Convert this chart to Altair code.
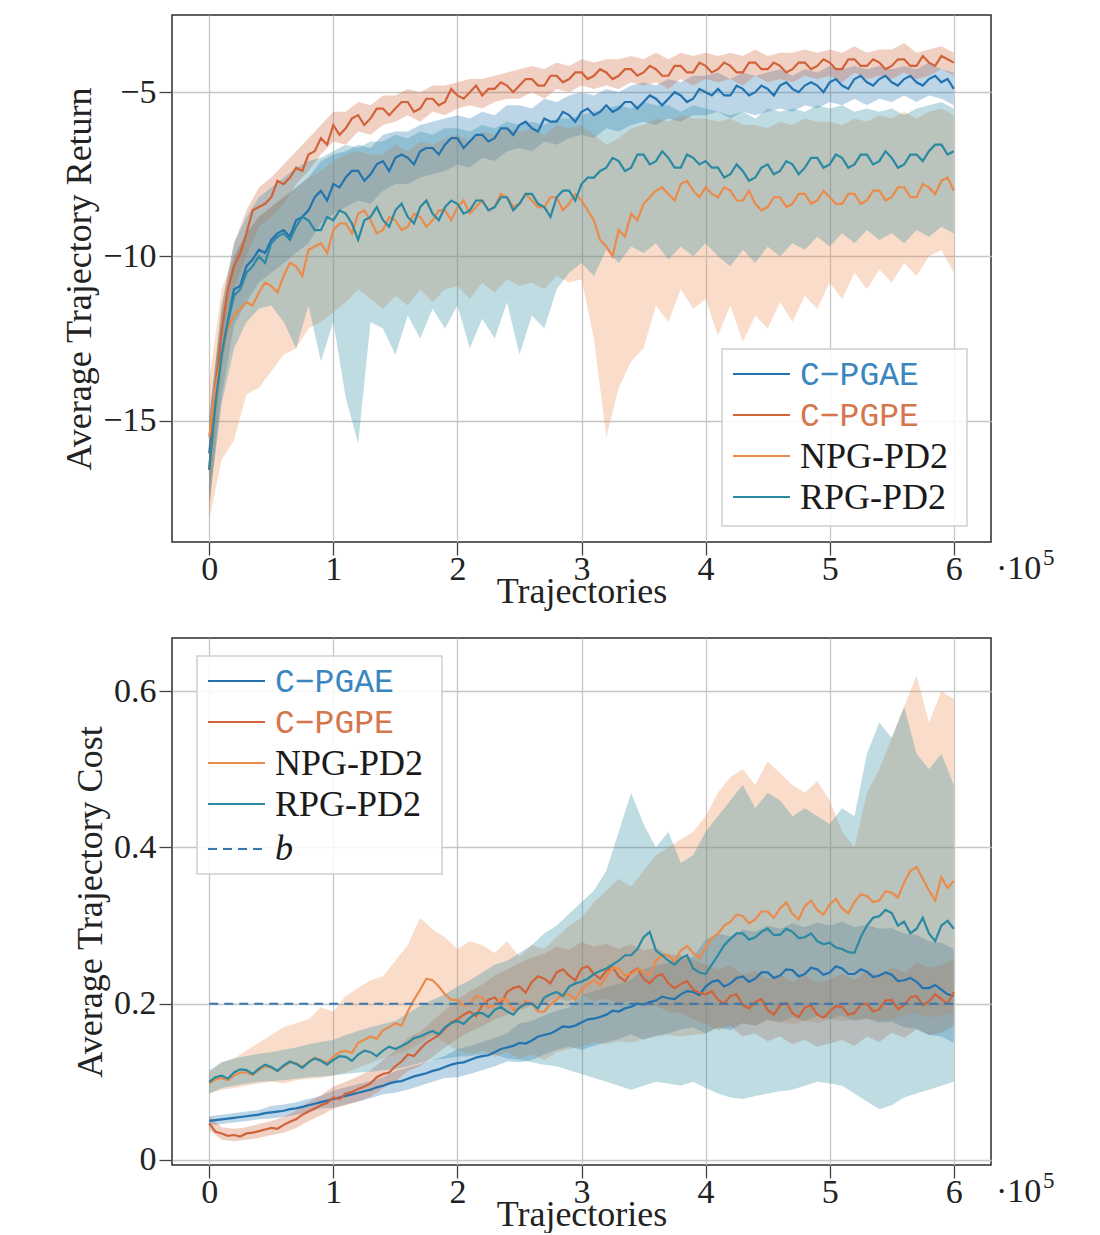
import altair as alt
import pandas as pd

# ---------------- data ----------------
STEPS = list(range(0, 600001, 10000))          # band sample positions (61)
FINE = list(range(0, 600001, 5000))            # mean-curve sample positions (121)
SERIES = ["C-PGAE", "C-PGPE", "NPG-PD2", "RPG-PD2"]
LABELS = ["C\u2212PGAE", "C\u2212PGPE", "NPG-PD2", "RPG-PD2"]
COLORS = ["#2273b0", "#d0633a", "#ea8b4b", "#2a8aa2"]
LABEL_COLORS = ["#3a86bf", "#d6764c", "#1a1a1a", "#1a1a1a"]
X_TICKS = [0, 100000, 200000, 300000, 400000, 500000, 600000]
RET_TICKS = [-15, -10, -5]
COST_TICKS = [0, 0.2, 0.4, 0.6]
B_THRESHOLD = 0.2

# ---- Average trajectory return: means (121 points) ----
ret_cpgae = [-16.0, -14.3, -13.0, -12.0, -11.0, -10.9, -10.3, -10.1, -9.8, -9.9,
             -9.5, -9.3, -9.2, -9.4, -8.9, -8.8, -8.6, -8.2, -8.0, -8.3,
             -7.8, -7.9, -7.6, -7.4, -7.4, -7.7, -7.5, -7.2, -7.1, -7.4,
             -7.0, -6.9, -7.0, -7.2, -6.8, -6.7, -6.7, -6.9, -6.6, -6.4,
             -6.4, -6.7, -6.5, -6.3, -6.3, -6.5, -6.4, -6.1, -6.1, -6.3,
             -6.0, -5.9, -6.1, -6.2, -5.8, -5.9, -5.9, -5.6, -5.7, -5.9,
             -5.6, -5.5, -5.7, -5.6, -5.4, -5.6, -5.5, -5.3, -5.3, -5.5,
             -5.3, -5.1, -5.2, -5.4, -5.2, -5.0, -5.1, -5.3, -5.2, -4.9,
             -5.0, -5.1, -4.9, -5.1, -5.1, -4.8, -4.9, -5.1, -5.0, -4.8,
             -4.9, -5.1, -4.8, -4.7, -4.9, -5.0, -4.8, -4.7, -4.8, -5.0,
             -4.7, -4.6, -4.8, -4.9, -4.6, -4.5, -4.7, -4.8, -4.6, -4.5,
             -4.7, -4.8, -4.6, -4.5, -4.7, -4.8, -4.6, -4.5, -4.7, -4.6,
             -4.9]
ret_cpgpe = [-16.5, -14.0, -12.3, -11.0, -10.3, -9.9, -9.3, -8.6, -8.5, -8.4,
             -8.2, -7.7, -7.8, -7.6, -7.3, -7.4, -6.9, -6.8, -6.4, -6.6,
             -6.0, -6.3, -6.1, -5.8, -5.7, -6.0, -5.8, -5.5, -5.5, -5.7,
             -5.5, -5.3, -5.3, -5.6, -5.5, -5.2, -5.2, -5.4, -5.3, -4.9,
             -5.1, -5.2, -5.0, -4.8, -5.1, -4.9, -4.9, -4.7, -4.8, -5.0,
             -4.8, -4.6, -4.6, -4.8, -4.8, -4.5, -4.5, -4.7, -4.6, -4.4,
             -4.4, -4.6, -4.5, -4.3, -4.4, -4.6, -4.5, -4.3, -4.3, -4.5,
             -4.4, -4.2, -4.3, -4.5, -4.5, -4.2, -4.2, -4.4, -4.4, -4.1,
             -4.2, -4.4, -4.3, -4.1, -4.2, -4.4, -4.4, -4.1, -4.1, -4.3,
             -4.3, -4.1, -4.2, -4.4, -4.3, -4.1, -4.1, -4.3, -4.2, -4.0,
             -4.1, -4.3, -4.3, -4.0, -4.0, -4.2, -4.2, -4.0, -4.1, -4.3,
             -4.2, -4.0, -4.0, -4.2, -4.2, -3.9, -4.1, -4.2, -3.9, -4.0,
             -4.1]
ret_npg = [-15.5, -14.0, -13.0, -12.2, -11.8, -11.6, -11.4, -11.5, -11.1, -10.8,
           -10.9, -11.1, -10.6, -10.2, -10.3, -10.6, -9.8, -9.7, -9.6, -9.9,
           -9.2, -9.0, -9.0, -9.3, -8.7, -8.6, -8.9, -9.3, -9.2, -8.8,
           -8.9, -9.2, -9.1, -8.7, -8.8, -9.1, -8.9, -8.6, -8.6, -8.9,
           -8.5, -8.3, -8.7, -8.5, -8.3, -8.6, -8.5, -8.1, -8.2, -8.5,
           -8.4, -8.1, -8.3, -8.5, -8.5, -8.2, -8.2, -8.6, -8.4, -8.1,
           -8.3, -8.6, -8.9, -9.5, -9.7, -10.0, -9.2, -9.4, -8.7, -8.9,
           -8.4, -8.2, -8.0, -7.9, -8.1, -8.3, -7.8, -7.7, -8.0, -8.2,
           -7.9, -8.1, -8.2, -7.9, -8.0, -8.3, -8.3, -8.0, -8.4, -8.6,
           -8.5, -8.2, -8.2, -8.5, -8.4, -8.1, -8.1, -8.4, -8.3, -8.0,
           -8.2, -8.4, -8.4, -8.1, -8.1, -8.4, -8.3, -8.0, -8.0, -8.3,
           -8.2, -7.9, -7.9, -8.2, -8.2, -7.8, -7.9, -8.1, -7.7, -7.6,
           -8.0]
ret_rpg = [-16.5, -14.5, -13.0, -12.0, -11.2, -11.0, -10.5, -10.3, -10.0, -10.2,
           -9.6, -9.4, -9.3, -9.5, -9.1, -8.8, -8.9, -9.2, -9.2, -8.8,
           -8.9, -8.6, -8.7, -9.0, -9.5, -8.9, -8.8, -8.5, -8.9, -9.1,
           -8.6, -8.4, -8.8, -9.0, -8.5, -8.3, -8.7, -8.9, -8.5, -8.3,
           -8.4, -8.7, -8.6, -8.3, -8.3, -8.6, -8.5, -8.2, -8.2, -8.6,
           -8.4, -8.1, -8.1, -8.4, -8.5, -8.8, -8.2, -8.0, -8.0, -8.3,
           -7.8, -7.6, -7.6, -7.4, -7.3, -7.0, -7.1, -7.4, -7.3, -6.9,
           -6.9, -7.2, -7.1, -6.8, -7.0, -7.3, -7.3, -6.9, -7.0, -7.2,
           -7.1, -7.3, -7.3, -7.6, -7.5, -7.2, -7.4, -7.7, -7.6, -7.3,
           -7.2, -7.5, -7.4, -7.1, -7.2, -7.5, -7.3, -7.0, -7.0, -7.3,
           -7.2, -6.9, -7.0, -7.3, -7.2, -6.9, -6.9, -7.2, -7.1, -6.8,
           -7.0, -7.3, -7.2, -6.9, -6.9, -7.1, -6.8, -6.6, -6.6, -6.9,
           -6.8]

# ---- Average trajectory return: bands (61 points) ----
ret_cpgae_hi = [-14.8, -11.8, -10.0, -9.3, -8.8, -8.5, -8.2, -7.9, -7.6, -7.1,
                -6.9, -6.8, -6.6, -6.7, -6.3, -6.2, -6.2, -6.0, -5.9, -5.8,
                -5.7, -5.8, -5.6, -5.7, -5.4, -5.4, -5.5, -5.2, -5.3, -5.1,
                -5.0, -5.1, -4.9, -5.0, -4.8, -4.7, -4.8, -4.6, -4.7, -4.5,
                -4.5, -4.4, -4.6, -4.4, -4.5, -4.4, -4.3, -4.5, -4.3, -4.4,
                -4.2, -4.3, -4.2, -4.3, -4.2, -4.3, -4.2, -4.3, -4.1, -4.3,
                -4.4]
ret_cpgae_lo = [-17.5, -14.3, -12.1, -11.4, -10.8, -10.5, -10.2, -9.9, -9.6, -9.0,
                -8.7, -8.5, -8.3, -8.4, -8.0, -7.8, -7.8, -7.6, -7.5, -7.4,
                -7.2, -7.3, -7.0, -7.1, -6.8, -6.7, -6.8, -6.5, -6.6, -6.4,
                -6.3, -6.4, -6.1, -6.2, -6.0, -5.9, -6.0, -5.8, -5.9, -5.7,
                -5.7, -5.6, -5.8, -5.6, -5.7, -5.6, -5.5, -5.6, -5.4, -5.5,
                -5.3, -5.4, -5.2, -5.4, -5.2, -5.3, -5.1, -5.3, -5.1, -5.2,
                -5.4]
ret_cpgpe_hi = [-15.0, -11.5, -9.6, -8.6, -7.9, -7.6, -7.2, -6.8, -6.4, -6.0,
                -5.6, -5.6, -5.3, -5.4, -5.1, -5.1, -4.9, -5.0, -4.8, -4.8,
                -4.7, -4.6, -4.6, -4.5, -4.4, -4.3, -4.2, -4.3, -4.1, -4.2,
                -4.0, -4.1, -4.0, -4.0, -3.9, -4.0, -3.8, -4.0, -3.8, -3.9,
                -3.8, -3.9, -3.8, -3.9, -3.7, -3.9, -3.8, -3.8, -3.7, -3.8,
                -3.7, -3.8, -3.6, -3.8, -3.7, -3.7, -3.5, -3.8, -3.7, -3.6,
                -3.8]
ret_cpgpe_lo = [-17.8, -13.5, -11.0, -10.0, -9.1, -8.8, -8.4, -7.8, -7.4, -6.9,
                -6.5, -6.6, -6.2, -6.3, -6.0, -5.9, -5.7, -5.9, -5.6, -5.7,
                -5.5, -5.4, -5.5, -5.3, -5.2, -5.2, -5.0, -5.2, -4.9, -5.0,
                -4.8, -4.9, -4.8, -4.9, -4.7, -4.8, -4.7, -4.9, -4.6, -4.8,
                -4.6, -4.7, -4.6, -4.8, -4.5, -4.7, -4.6, -4.7, -4.5, -4.6,
                -4.5, -4.7, -4.4, -4.6, -4.5, -4.6, -4.4, -4.6, -4.5, -4.3,
                -4.5]
ret_npg_hi = [-13.8, -11.0, -10.0, -9.3, -8.8, -8.5, -8.2, -7.9, -7.6, -7.4,
              -7.1, -6.9, -6.8, -6.9, -6.9, -6.6, -6.8, -6.5, -6.6, -6.4,
              -6.3, -6.5, -6.2, -6.3, -6.1, -6.2, -6.1, -6.3, -6.0, -6.1,
              -6.0, -6.3, -6.6, -6.4, -6.1, -6.0, -5.8, -5.9, -5.7, -5.8,
              -5.8, -5.9, -5.8, -6.0, -6.0, -6.1, -5.9, -6.0, -5.8, -5.9,
              -5.9, -6.0, -5.8, -5.9, -5.7, -5.8, -5.6, -5.8, -5.6, -5.5,
              -5.7]
ret_npg_lo = [-18.0, -16.2, -15.6, -14.2, -14.0, -13.5, -13.0, -12.8, -12.2, -12.0,
              -11.7, -11.4, -11.0, -11.3, -11.6, -11.2, -11.5, -11.0, -11.4, -11.0,
              -10.9, -11.3, -10.8, -11.1, -10.7, -10.9, -10.8, -11.0, -10.6, -10.8,
              -10.7, -12.5, -15.5, -14.0, -13.2, -12.8, -11.5, -12.0, -11.0, -11.6,
              -11.3, -12.4, -11.5, -12.6, -11.8, -12.2, -11.4, -12.0, -11.2, -11.6,
              -10.8, -11.3, -10.5, -11.0, -10.4, -10.8, -10.2, -10.6, -10.0, -9.8,
              -10.5]
ret_rpg_hi = [-15.0, -11.5, -9.6, -8.8, -8.2, -7.9, -7.6, -7.3, -7.1, -7.0,
              -6.8, -6.6, -6.7, -6.5, -6.5, -6.3, -6.4, -6.2, -6.3, -6.1,
              -6.1, -6.2, -6.0, -6.1, -5.9, -6.0, -5.9, -6.0, -5.8, -5.8,
              -5.7, -5.6, -5.5, -5.4, -5.5, -5.3, -5.4, -5.4, -5.6, -5.4,
              -5.5, -5.6, -5.7, -5.6, -5.8, -5.5, -5.6, -5.5, -5.6, -5.4,
              -5.5, -5.4, -5.6, -5.5, -5.6, -5.5, -5.7, -5.5, -5.4, -5.3,
              -5.5]
ret_rpg_lo = [-17.5, -14.5, -12.8, -12.0, -11.6, -11.5, -12.0, -12.8, -11.5, -13.2,
              -12.0, -14.3, -15.7, -12.0, -12.2, -13.0, -11.8, -12.5, -11.6, -12.2,
              -11.5, -12.8, -11.9, -12.5, -11.4, -13.0, -11.8, -12.2, -11.0, -10.5,
              -10.2, -10.6, -9.8, -10.2, -9.7, -9.9, -9.6, -10.1, -9.7, -10.0,
              -9.6, -10.0, -10.3, -9.8, -10.2, -9.7, -10.0, -9.6, -9.8, -9.4,
              -9.7, -9.3, -9.6, -9.2, -9.5, -9.3, -9.6, -9.2, -9.4, -9.1,
              -9.3]

# ---- Average trajectory cost: means (121 points) ----
cost_cpgae = [0.050, 0.051, 0.052, 0.053, 0.054, 0.055, 0.056, 0.057, 0.058, 0.060,
              0.061, 0.062, 0.063, 0.065, 0.066, 0.068, 0.070, 0.072, 0.074, 0.076,
              0.078, 0.080, 0.082, 0.084, 0.086, 0.088, 0.090, 0.093, 0.095, 0.098,
              0.100, 0.101, 0.104, 0.107, 0.109, 0.111, 0.114, 0.116, 0.119, 0.122,
              0.124, 0.125, 0.128, 0.131, 0.133, 0.134, 0.138, 0.142, 0.144, 0.146,
              0.150, 0.149, 0.153, 0.158, 0.160, 0.162, 0.166, 0.171, 0.170, 0.172,
              0.176, 0.180, 0.181, 0.183, 0.186, 0.191, 0.190, 0.194, 0.196, 0.200,
              0.199, 0.202, 0.204, 0.209, 0.207, 0.206, 0.212, 0.216, 0.215, 0.211,
              0.222, 0.228, 0.230, 0.222, 0.226, 0.233, 0.235, 0.228, 0.232, 0.240,
              0.240, 0.233, 0.236, 0.244, 0.243, 0.235, 0.238, 0.246, 0.244, 0.237,
              0.240, 0.248, 0.245, 0.238, 0.238, 0.244, 0.241, 0.234, 0.236, 0.240,
              0.237, 0.229, 0.230, 0.233, 0.228, 0.220, 0.220, 0.224, 0.218, 0.212,
              0.210]
cost_cpgpe = [0.047, 0.036, 0.034, 0.031, 0.032, 0.030, 0.034, 0.035, 0.037, 0.039,
              0.041, 0.040, 0.045, 0.049, 0.052, 0.058, 0.062, 0.066, 0.070, 0.073,
              0.080, 0.078, 0.085, 0.087, 0.091, 0.094, 0.098, 0.106, 0.110, 0.112,
              0.120, 0.126, 0.135, 0.133, 0.142, 0.150, 0.155, 0.160, 0.168, 0.176,
              0.180, 0.186, 0.190, 0.184, 0.198, 0.205, 0.208, 0.200, 0.215, 0.220,
              0.222, 0.214, 0.228, 0.235, 0.232, 0.226, 0.240, 0.244, 0.236, 0.230,
              0.245, 0.248, 0.238, 0.232, 0.242, 0.247, 0.235, 0.229, 0.240, 0.245,
              0.232, 0.226, 0.235, 0.238, 0.226, 0.220, 0.225, 0.229, 0.218, 0.214,
              0.212, 0.216, 0.205, 0.200, 0.210, 0.212, 0.198, 0.194, 0.202, 0.206,
              0.192, 0.186, 0.198, 0.201, 0.188, 0.183, 0.195, 0.198, 0.186, 0.182,
              0.190, 0.197, 0.196, 0.186, 0.188, 0.199, 0.200, 0.190, 0.193, 0.204,
              0.205, 0.193, 0.198, 0.208, 0.210, 0.198, 0.203, 0.212, 0.206, 0.200,
              0.215]
cost_npg = [0.098, 0.103, 0.105, 0.102, 0.108, 0.112, 0.112, 0.109, 0.115, 0.120,
            0.118, 0.114, 0.120, 0.125, 0.124, 0.119, 0.126, 0.131, 0.128, 0.124,
            0.132, 0.138, 0.140, 0.137, 0.150, 0.154, 0.158, 0.155, 0.166, 0.170,
            0.175, 0.172, 0.190, 0.205, 0.218, 0.232, 0.230, 0.222, 0.212, 0.205,
            0.205, 0.198, 0.200, 0.210, 0.208, 0.195, 0.198, 0.206, 0.205, 0.192,
            0.195, 0.203, 0.200, 0.190, 0.190, 0.200, 0.205, 0.212, 0.212, 0.205,
            0.218, 0.225, 0.230, 0.224, 0.235, 0.246, 0.245, 0.236, 0.238, 0.244,
            0.242, 0.236, 0.255, 0.262, 0.262, 0.254, 0.268, 0.274, 0.265, 0.258,
            0.272, 0.284, 0.290, 0.300, 0.305, 0.314, 0.312, 0.303, 0.308, 0.318,
            0.318, 0.310, 0.322, 0.330, 0.315, 0.308, 0.325, 0.332, 0.320, 0.314,
            0.327, 0.334, 0.322, 0.316, 0.330, 0.340, 0.338, 0.330, 0.332, 0.344,
            0.342, 0.336, 0.355, 0.370, 0.375, 0.360, 0.345, 0.332, 0.362, 0.348,
            0.357]
cost_rpg = [0.100, 0.106, 0.108, 0.104, 0.112, 0.116, 0.115, 0.110, 0.117, 0.122,
            0.119, 0.114, 0.121, 0.126, 0.123, 0.118, 0.125, 0.130, 0.127, 0.122,
            0.128, 0.133, 0.132, 0.127, 0.135, 0.140, 0.138, 0.133, 0.140, 0.145,
            0.142, 0.146, 0.150, 0.156, 0.158, 0.162, 0.165, 0.161, 0.170, 0.175,
            0.178, 0.174, 0.182, 0.188, 0.188, 0.183, 0.192, 0.196, 0.190, 0.186,
            0.195, 0.200, 0.200, 0.194, 0.208, 0.212, 0.215, 0.210, 0.222, 0.226,
            0.228, 0.232, 0.238, 0.242, 0.245, 0.250, 0.255, 0.262, 0.262, 0.270,
            0.285, 0.292, 0.268, 0.262, 0.255, 0.250, 0.258, 0.262, 0.245, 0.240,
            0.238, 0.250, 0.262, 0.275, 0.283, 0.290, 0.290, 0.282, 0.285, 0.292,
            0.296, 0.288, 0.288, 0.296, 0.292, 0.284, 0.285, 0.290, 0.280, 0.276,
            0.278, 0.272, 0.270, 0.266, 0.265, 0.285, 0.300, 0.310, 0.312, 0.320,
            0.316, 0.300, 0.305, 0.290, 0.296, 0.310, 0.290, 0.280, 0.300, 0.306,
            0.296]

# ---- Average trajectory cost: bands (61 points) ----
cost_cpgae_hi = [0.056, 0.058, 0.060, 0.062, 0.064, 0.069, 0.071, 0.074, 0.078, 0.082,
                 0.089, 0.093, 0.097, 0.101, 0.106, 0.114, 0.118, 0.123, 0.128, 0.133,
                 0.142, 0.146, 0.151, 0.156, 0.162, 0.175, 0.178, 0.185, 0.191, 0.195,
                 0.211, 0.216, 0.221, 0.225, 0.231, 0.244, 0.249, 0.252, 0.257, 0.260,
                 0.282, 0.290, 0.286, 0.295, 0.292, 0.300, 0.296, 0.303, 0.298, 0.304,
                 0.300, 0.305, 0.298, 0.301, 0.296, 0.297, 0.290, 0.288, 0.280, 0.278,
                 0.270]
cost_cpgae_lo = [0.044, 0.046, 0.048, 0.050, 0.052, 0.053, 0.055, 0.058, 0.062, 0.066,
                 0.067, 0.071, 0.075, 0.079, 0.084, 0.086, 0.090, 0.095, 0.100, 0.105,
                 0.106, 0.110, 0.115, 0.120, 0.126, 0.125, 0.128, 0.135, 0.141, 0.145,
                 0.141, 0.146, 0.151, 0.155, 0.161, 0.154, 0.159, 0.162, 0.167, 0.170,
                 0.162, 0.170, 0.166, 0.175, 0.172, 0.180, 0.176, 0.183, 0.178, 0.184,
                 0.180, 0.185, 0.178, 0.181, 0.176, 0.177, 0.170, 0.168, 0.160, 0.158,
                 0.150]
cost_cpgpe_hi = [0.056, 0.042, 0.040, 0.042, 0.046, 0.050, 0.055, 0.063, 0.074, 0.083,
                 0.094, 0.100, 0.107, 0.115, 0.128, 0.140, 0.156, 0.164, 0.178, 0.192,
                 0.205, 0.216, 0.225, 0.236, 0.244, 0.252, 0.259, 0.264, 0.273, 0.269,
                 0.279, 0.273, 0.277, 0.270, 0.276, 0.268, 0.272, 0.263, 0.262, 0.256,
                 0.250, 0.244, 0.249, 0.238, 0.242, 0.232, 0.238, 0.228, 0.236, 0.227,
                 0.231, 0.238, 0.230, 0.242, 0.235, 0.247, 0.240, 0.253, 0.246, 0.249,
                 0.258]
cost_cpgpe_lo = [0.038, 0.026, 0.024, 0.026, 0.028, 0.032, 0.035, 0.041, 0.050, 0.057,
                 0.066, 0.070, 0.075, 0.081, 0.092, 0.100, 0.114, 0.120, 0.132, 0.144,
                 0.155, 0.164, 0.171, 0.180, 0.186, 0.192, 0.197, 0.200, 0.207, 0.203,
                 0.211, 0.203, 0.207, 0.200, 0.204, 0.196, 0.198, 0.189, 0.188, 0.180,
                 0.174, 0.166, 0.171, 0.158, 0.162, 0.152, 0.158, 0.148, 0.154, 0.145,
                 0.149, 0.154, 0.146, 0.158, 0.151, 0.163, 0.156, 0.167, 0.160, 0.163,
                 0.172]
cost_npg_hi = [0.112, 0.125, 0.130, 0.140, 0.150, 0.160, 0.170, 0.175, 0.180, 0.195,
               0.190, 0.210, 0.220, 0.230, 0.235, 0.255, 0.275, 0.310, 0.295, 0.285,
               0.270, 0.280, 0.275, 0.265, 0.280, 0.260, 0.275, 0.270, 0.285, 0.300,
               0.310, 0.330, 0.345, 0.360, 0.350, 0.370, 0.390, 0.400, 0.410, 0.420,
               0.440, 0.470, 0.490, 0.500, 0.480, 0.510, 0.495, 0.480, 0.470, 0.485,
               0.460, 0.420, 0.400, 0.470, 0.500, 0.540, 0.580, 0.620, 0.560, 0.600,
               0.590]
cost_npg_lo = [0.085, 0.090, 0.092, 0.095, 0.098, 0.100, 0.098, 0.102, 0.104, 0.105,
               0.108, 0.112, 0.118, 0.124, 0.130, 0.135, 0.140, 0.150, 0.160, 0.150,
               0.140, 0.135, 0.140, 0.132, 0.138, 0.130, 0.135, 0.128, 0.138, 0.142,
               0.145, 0.150, 0.148, 0.152, 0.150, 0.155, 0.158, 0.160, 0.158, 0.160,
               0.162, 0.170, 0.172, 0.175, 0.172, 0.178, 0.176, 0.174, 0.178, 0.175,
               0.180, 0.178, 0.180, 0.182, 0.178, 0.180, 0.185, 0.188, 0.182, 0.186,
               0.188]
cost_rpg_hi = [0.115, 0.125, 0.130, 0.133, 0.136, 0.138, 0.141, 0.144, 0.148, 0.151,
               0.154, 0.160, 0.165, 0.170, 0.174, 0.178, 0.188, 0.197, 0.205, 0.212,
               0.222, 0.230, 0.240, 0.250, 0.255, 0.265, 0.275, 0.290, 0.300, 0.315,
               0.330, 0.345, 0.370, 0.420, 0.470, 0.430, 0.400, 0.420, 0.380, 0.390,
               0.420, 0.440, 0.460, 0.480, 0.450, 0.470, 0.460, 0.440, 0.450, 0.440,
               0.430, 0.450, 0.440, 0.520, 0.560, 0.540, 0.580, 0.520, 0.500, 0.520,
               0.480]
cost_rpg_lo = [0.085, 0.092, 0.095, 0.098, 0.100, 0.101, 0.102, 0.104, 0.106, 0.107,
               0.108, 0.110, 0.112, 0.113, 0.115, 0.116, 0.120, 0.124, 0.128, 0.130,
               0.132, 0.133, 0.135, 0.135, 0.130, 0.128, 0.125, 0.122, 0.120, 0.115,
               0.110, 0.105, 0.100, 0.095, 0.090, 0.095, 0.100, 0.098, 0.095, 0.100,
               0.092, 0.085, 0.080, 0.078, 0.082, 0.085, 0.088, 0.090, 0.095, 0.100,
               0.098, 0.095, 0.085, 0.075, 0.065, 0.070, 0.080, 0.085, 0.090, 0.095,
               0.100]

# ---------------- styling ----------------
SERIF = "Liberation Serif"
MONO = "Liberation Mono"
FS = 34
TFS = 36
W, H = 819, 527


def bands_df(lows, highs):
    rows = []
    for s, lo, hi in zip(SERIES, lows, highs):
        assert len(lo) == len(hi) == len(STEPS), s
        for x, b, c in zip(STEPS, lo, hi):
            rows.append({"x": x, "series": s, "lo": b, "hi": c})
    return pd.DataFrame(rows)


def means_df(means):
    rows = []
    for s, m in zip(SERIES, means):
        assert len(m) == len(FINE), s
        for x, a in zip(FINE, m):
            rows.append({"x": x, "series": s, "mean": a})
    return pd.DataFrame(rows)


color = alt.Color("series:N", scale=alt.Scale(domain=SERIES, range=COLORS), legend=None)


def x_enc():
    return alt.X("x:Q",
                 scale=alt.Scale(domain=[-30000, 630000], nice=False, zero=False),
                 axis=alt.Axis(values=X_TICKS, title="Trajectories",
                               labelExpr="toString(datum.value / 100000)",
                               tickSize=13, labelPadding=-3, titlePadding=-12,
                               titleFontSize=TFS, grid=True, labelFlush=False))


def legend_layers(x0, y0, box_w, box_h, rows, row_gap, extra_b=False):
    one = pd.DataFrame({"k": [0]})
    layers = [alt.Chart(one).mark_rect(fill="white", fillOpacity=0.85,
                                       stroke="#d0d0d0", strokeWidth=1.5)
              .encode(x=alt.value(x0), x2=alt.value(x0 + box_w),
                      y=alt.value(y0), y2=alt.value(y0 + box_h))]
    for i, (lab, col, lcol) in enumerate(rows):
        yy = y0 + 25 + i * row_gap
        layers.append(alt.Chart(one).mark_rule(color=col, strokeWidth=2.2)
                      .encode(x=alt.value(x0 + 11), x2=alt.value(x0 + 68), y=alt.value(yy)))
        mono = lab.startswith("C")
        layers.append(alt.Chart(one).mark_text(text=lab, font=MONO if mono else SERIF,
                                               fontSize=33 if mono else 36, color=lcol,
                                               align="left", baseline="middle")
                      .encode(x=alt.value(x0 + 78), y=alt.value(yy + 1)))
    if extra_b:
        yy = y0 + 25 + len(rows) * row_gap + 4
        layers.append(alt.Chart(one).mark_rule(color="#3a76b0", strokeWidth=2.2, strokeDash=[9, 6])
                      .encode(x=alt.value(x0 + 11), x2=alt.value(x0 + 68), y=alt.value(yy)))
        layers.append(alt.Chart(one).mark_text(text="b", font=SERIF, fontStyle="italic",
                                               fontSize=36, color="#1a1a1a",
                                               align="left", baseline="middle")
                      .encode(x=alt.value(x0 + 78), y=alt.value(yy)))
    return layers


def exponent_layers():
    one = pd.DataFrame({"k": [0]})
    return [
        alt.Chart(one).mark_text(text="\u00b710", font=SERIF, fontSize=FS, color="#222",
                                 align="left", baseline="middle")
        .encode(x=alt.value(W + 5), y=alt.value(H + 27)),
        alt.Chart(one).mark_text(text="5", font=SERIF, fontSize=23, color="#222",
                                 align="left", baseline="middle")
        .encode(x=alt.value(W + 52), y=alt.value(H + 16)),
    ]


def panel(bdf, mdf, y_domain, y_ticks, y_title, label_expr, legend, extra=None):
    y_scale = alt.Scale(domain=y_domain, nice=False, zero=False)
    y_axis = alt.Axis(values=y_ticks, title=y_title, labelExpr=label_expr,
                      tickSize=13, labelPadding=3, titlePadding=4, titleFontSize=TFS,
                      grid=True)
    bands = alt.Chart(bdf).mark_area(opacity=0.3, clip=True).encode(
        x=x_enc(), y=alt.Y("lo:Q", scale=y_scale, axis=y_axis), y2="hi:Q", color=color)
    lines = alt.Chart(mdf).mark_line(strokeWidth=2.2, clip=True).encode(
        x=x_enc(), y=alt.Y("mean:Q", scale=y_scale, axis=y_axis), color=color)
    layers = [bands, lines]
    if extra is not None:
        layers.append(extra)
    layers += legend + exponent_layers()
    return alt.layer(*layers).properties(width=W, height=H)


ret_bands = bands_df([ret_cpgae_lo, ret_cpgpe_lo, ret_npg_lo, ret_rpg_lo],
                     [ret_cpgae_hi, ret_cpgpe_hi, ret_npg_hi, ret_rpg_hi])
ret_means = means_df([ret_cpgae, ret_cpgpe, ret_npg, ret_rpg])
cost_bands = bands_df([cost_cpgae_lo, cost_cpgpe_lo, cost_npg_lo, cost_rpg_lo],
                      [cost_cpgae_hi, cost_cpgpe_hi, cost_npg_hi, cost_rpg_hi])
cost_means = means_df([cost_cpgae, cost_cpgpe, cost_npg, cost_rpg])

legend_rows = list(zip(LABELS, COLORS, LABEL_COLORS))

top = panel(ret_bands, ret_means, [-18.7, -2.65], RET_TICKS, "Average Trajectory Return",
            "replace(toString(datum.value), '-', '\u2212')",
            legend_layers(550, 334, 245, 177, legend_rows, 41))

b_df = pd.DataFrame({"x": [STEPS[0]], "x2": [STEPS[-1]], "b": [B_THRESHOLD]})
b_line = alt.Chart(b_df).mark_rule(color="#3a76b0", strokeWidth=2, strokeDash=[9, 6]).encode(
    x="x:Q", x2="x2:Q", y="b:Q")

bottom = panel(cost_bands, cost_means, [-0.0064, 0.668], COST_TICKS, "Average Trajectory Cost",
               "datum.value == 0 ? '0' : format(datum.value, '.1f')",
               legend_layers(25, 18, 245, 218, legend_rows, 41, extra_b=True),
               extra=b_line)

chart = alt.vconcat(top, bottom, spacing=27).properties(
    padding={"left": 53, "top": 6, "right": 5, "bottom": 0}
).configure_view(
    stroke="#2b2b2b", strokeWidth=1.5
).configure_axis(
    domain=False, gridColor="#c6c6c6", gridWidth=1.3,
    tickColor="#444444", tickWidth=1.3,
    labelFont=SERIF, titleFont=SERIF, labelFontSize=FS, titleFontSize=TFS,
    labelColor="#222222", titleColor="#222222", titleFontWeight="normal"
)

chart.save("out.html", embed_options={"renderer": "svg", "actions": False})
